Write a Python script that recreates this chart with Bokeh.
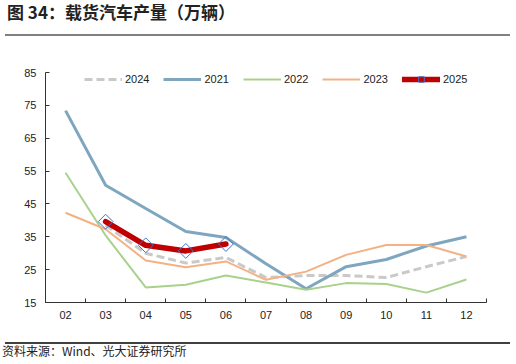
import math
from bokeh.plotting import figure
from bokeh.models import Range1d, FixedTicker, Legend, LegendItem, Div
from bokeh.layouts import column
from bokeh.embed import file_html
from bokeh.resources import INLINE

nan = float("nan")
months = ["02", "03", "04", "05", "06", "07", "08", "09", "10", "11", "12"]
y2024 = [nan, 38.5, 30.0, 27.0, 28.7, 22.6, 23.2, 23.2, 22.6, 25.9, 29.0]
y2021 = [73.4, 50.7, 43.6, 36.6, 34.8, 26.8, 19.2, 25.9, 28.1, 32.2, 35.0]
y2022 = [54.5, 35.4, 19.6, 20.4, 23.2, 21.1, 18.9, 20.9, 20.6, 18.0, 22.0]
y2023 = [42.3, 37.3, 27.8, 25.7, 27.5, 21.9, 24.4, 29.5, 32.5, 32.5, 29.0]
y2025 = [nan, 39.6, 32.4, 30.7, 32.8, nan, nan, nan, nan, nan, nan]
y_ticks = [15, 25, 35, 45, 55, 65, 75, 85]

xs = list(range(len(months)))

p = figure(width=508, height=297, output_backend="svg", toolbar_location=None,
           x_range=Range1d(-0.5, len(months) - 0.5), y_range=Range1d(15, 85),
           min_border_left=45, min_border_right=22, min_border_top=34, min_border_bottom=33,
           margin=(0, 0, 0, 0))
p.outline_line_color = None
p.xgrid.visible = False
p.ygrid.visible = False
p.background_fill_color = "white"
p.border_fill_alpha = 0

r24 = p.line(xs, y2024, line_color="#C9C9C9", line_width=3, line_dash="8 4")
r21 = p.line(xs, y2021, line_color="#7EA6BF", line_width=3)
r22 = p.line(xs, y2022, line_color="#A9D18E", line_width=2)
r23 = p.line(xs, y2023, line_color="#F4B183", line_width=2)
r25 = p.line(xs, y2025, line_color="#C00000", line_width=5.5, line_join="round", line_cap="round")
m25 = p.scatter(xs, y2025, marker="square", angle=math.pi / 4, size=10.5,
                fill_color=None, line_color="#4472C4", line_width=1)

legend = Legend(items=[
    LegendItem(label="2024", renderers=[r24]),
    LegendItem(label="2021", renderers=[r21]),
    LegendItem(label="2022", renderers=[r22]),
    LegendItem(label="2023", renderers=[r23]),
    LegendItem(label="2025", renderers=[r25, m25]),
], orientation="horizontal", location=(39, 216), padding=0, margin=0, spacing=14,
   glyph_width=38, glyph_height=14, label_height=14, label_standoff=3,
   border_line_color=None, background_fill_alpha=0,
   label_text_font="Liberation Sans", label_text_font_size="11px", label_text_color="#222222")
p.add_layout(legend)

xa = p.xaxis[0]
xa.ticker = FixedTicker(ticks=xs, minor_ticks=[i - 0.5 for i in range(len(months) + 1)])
xa.major_label_overrides = {i: m for i, m in zip(xs, months)}
xa.major_tick_in = 0
xa.major_tick_out = 0
xa.minor_tick_in = 4
xa.minor_tick_out = 0
xa.minor_tick_line_color = "#333333"
xa.major_label_standoff = 8

ya = p.yaxis[0]
ya.ticker = FixedTicker(ticks=y_ticks)
ya.major_tick_in = 4
ya.major_tick_out = 0
ya.minor_tick_line_color = None
ya.major_label_standoff = 9

for ax in (xa, ya):
    ax.axis_line_color = "#333333"
    ax.major_tick_line_color = "#333333"
    ax.major_label_text_font = "Liberation Sans"
    ax.major_label_text_font_size = "11px"
    ax.major_label_text_color = "#222222"

title = Div(width=508, height=31, margin=(0, 0, 0, 0), text=(
    '<div style="margin-left:7px;padding-top:2px;'
    'font-family:\'Noto Sans CJK SC\';font-weight:bold;font-size:17px;line-height:20px;color:#222;">'
    '图 34：载货汽车产量（万辆）</div>'))

rule = Div(width=508, height=7, margin=(0, 0, 0, 0), text=(
    '<div style="margin-top:-9px;margin-left:5px;width:505px;height:0px;'
    'border-top:2px solid #808080;"></div>'))

footer = Div(width=508, height=29, margin=(0, 0, 0, 0), text=(
    '<div style="margin-top:7px;margin-left:5px;width:505px;height:2px;background-color:#404040;"></div>'
    '<div style="margin-left:2px;'
    'font-family:\'Noto Sans CJK SC\';font-size:12px;line-height:14px;color:#222;">'
    '资料来源：Wind、光大证券研究所</div>'))

layout = column(title, rule, p, footer, spacing=0)

open("out.html", "w").write(file_html(layout, INLINE))
